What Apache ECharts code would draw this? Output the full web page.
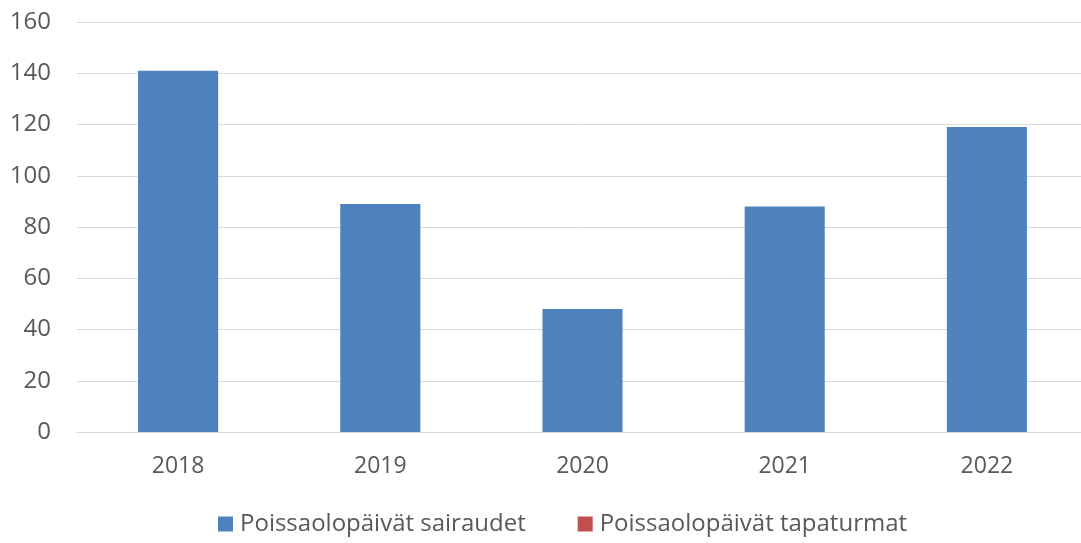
<!DOCTYPE html>
<html>
<head>
<meta charset="utf-8">
<script src="https://cdn.jsdelivr.net/npm/echarts@6/dist/echarts.min.js"></script>
<style>
  html, body { margin: 0; padding: 0; background: #fff; }
  #chart { width: 1081px; height: 543px; }
</style>
</head>
<body>
<div id="chart"></div>
<script>
// vuodet ja poissaolopäivät
var years = ['2018', '2019', '2020', '2021', '2022'];
var sairaudet = [141, 89, 48, 88, 119];
var tapaturmat = [0, 0, 0, 0, 0];
var seriesNames = ['Poissaolopäivät sairaudet', 'Poissaolopäivät tapaturmat'];

var chart = echarts.init(document.getElementById('chart'));

var option = {
    animation: false,
    textStyle: { fontFamily: 'Open Sans' },
    grid: { left: 77, width: 1011, top: 22, bottom: 111, outerBoundsMode: 'none', containLabel: false },
    legend: {
        bottom: 2,
        left: 213,
        icon: 'rect',
        itemWidth: 15,
        itemHeight: 15,
        itemGap: 52,
        textStyle: { fontSize: 24, color: '#595959', fontFamily: 'Open Sans', padding: [0, 0, 0, 2] },
        data: seriesNames
    },
    xAxis: {
        type: 'category',
        data: years,
        axisTick: { show: false },
        axisLine: { lineStyle: { color: '#d9d9d9', width: 1 } },
        axisLabel: { fontSize: 23, color: '#595959', margin: 23 }
    },
    yAxis: {
        type: 'value',
        min: 0,
        max: 160,
        interval: 20,
        axisLine: { show: false },
        axisTick: { show: false },
        splitLine: { lineStyle: { color: '#d9d9d9', width: 1 } },
        axisLabel: { fontSize: 24, color: '#595959', margin: 26 }
    },
    series: [
        {
            name: seriesNames[0],
            type: 'bar',
            stack: 'poissa',
            barWidth: '39.6%',
            itemStyle: { color: '#4F81BD' },
            data: sairaudet
        },
        {
            name: seriesNames[1],
            type: 'bar',
            stack: 'poissa',
            itemStyle: { color: '#C0504D' },
            data: tapaturmat
        }
    ]
};

chart.setOption(option);
</script>
</body>
</html>
